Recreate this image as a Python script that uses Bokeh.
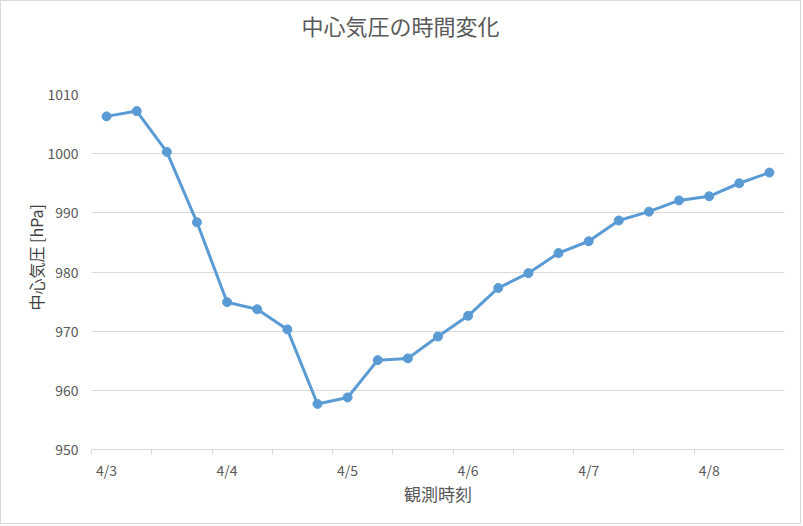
import math
from bokeh.plotting import figure
from bokeh.models import Range1d, FixedTicker, Title, LinearAxis, ColumnDataSource
from bokeh.embed import file_html
from bokeh.resources import INLINE

# ---- data ----
pressure = [1006.3, 1007.2, 1000.3, 988.4, 974.9, 973.7, 970.3, 957.7, 958.8,
            965.1, 965.4, 969.1, 972.6, 977.3, 979.8, 983.2, 985.2, 988.7,
            990.2, 992.1, 992.8, 995.0, 996.8]
date_labels = ["4/3", "4/4", "4/5", "4/6", "4/7", "4/8"]
obs_per_day = 4
y_ticks = [950, 960, 970, 980, 990, 1000, 1010]

title_text = "中心気圧の時間変化"
x_title = "観測時刻"
y_title = "中心気圧 [hPa]"

FONT = "Noto Sans CJK JP"
GREY = "#595959"
LINE = "#5b9bd5"
GRID = "#d9d9d9"

idx = list(range(len(pressure)))
src = ColumnDataSource(dict(x=idx, y=pressure))

p = figure(width=801, height=524, output_backend="svg", toolbar_location=None,
           x_range=Range1d(-0.5, len(pressure) - 0.5),
           y_range=Range1d(y_ticks[0], y_ticks[-1]),
           min_border_left=90, min_border_right=18,
           min_border_top=93, min_border_bottom=76)
p.styles = {"border": "1px solid #d9d9d9"}
p.outline_line_color = None
p.background_fill_color = "white"
p.border_fill_color = "white"
p.title.visible = False

p.line("x", "y", source=src, line_color=LINE, line_width=3)
p.scatter("x", "y", source=src, size=9, fill_color=LINE, line_color=LINE)

# x axis
major = [i * obs_per_day for i in range(len(date_labels))]
minor = [b - 0.5 for b in range(0, len(pressure) - 1, 2)]
p.xaxis.ticker = FixedTicker(ticks=major, minor_ticks=minor)
p.xaxis.major_label_overrides = {m: l for m, l in zip(major, date_labels)}
p.xaxis.major_tick_line_color = None
p.xaxis.major_tick_out = 0
p.xaxis.major_tick_in = 0
p.xaxis.minor_tick_line_color = GRID
p.xaxis.minor_tick_out = 5
p.xaxis.minor_tick_in = 0
p.xaxis.axis_line_color = GRID
p.xaxis.major_label_standoff = 5
p.xaxis.major_label_text_font = FONT
p.xaxis.major_label_text_font_size = "14px"
p.xaxis.major_label_text_color = GREY
p.xaxis.axis_label = x_title
p.xaxis.axis_label_text_font = FONT
p.xaxis.axis_label_text_font_size = "17px"
p.xaxis.axis_label_text_font_style = "normal"
p.xaxis.axis_label_text_color = GREY
p.xaxis.axis_label_standoff = -2

# y axis
p.yaxis.ticker = FixedTicker(ticks=y_ticks)
p.yaxis.axis_line_color = None
p.yaxis.major_tick_line_color = None
p.yaxis.minor_tick_line_color = None
p.yaxis.major_tick_out = 0
p.yaxis.major_label_standoff = 13
p.yaxis.major_label_text_font = FONT
p.yaxis.major_label_text_font_size = "14px"
p.yaxis.major_label_text_color = GREY

p.xgrid.grid_line_color = None
p.ygrid.grid_line_color = GRID
p.ygrid.ticker = FixedTicker(ticks=y_ticks)

# empty spacer axis above the frame (white tick on white, blank label) to lift the title
spacer = LinearAxis(ticker=FixedTicker(ticks=[-0.5], minor_ticks=[]), major_tick_out=49,
                    major_tick_in=0, minor_tick_out=0, minor_tick_in=0,
                    major_tick_line_color="white", minor_tick_line_color=None,
                    axis_line_color=None, major_label_standoff=0,
                    major_label_overrides={-0.5: ""},
                    major_label_text_alpha=0, major_label_text_font_size="1px")
p.add_layout(spacer, "above")

main_title = Title(text=title_text, align="left", offset=210, standoff=10,
                   text_font=FONT, text_font_size="22px", text_font_style="normal",
                   text_color=GREY)
p.add_layout(main_title, "above")

ytitle = Title(text=y_title, align="left", offset=139, standoff=-7,
               text_font=FONT, text_font_size="16px", text_font_style="normal",
               text_color="#404040")
p.add_layout(ytitle, "left")

open("out.html", "w").write(file_html(p, INLINE))
